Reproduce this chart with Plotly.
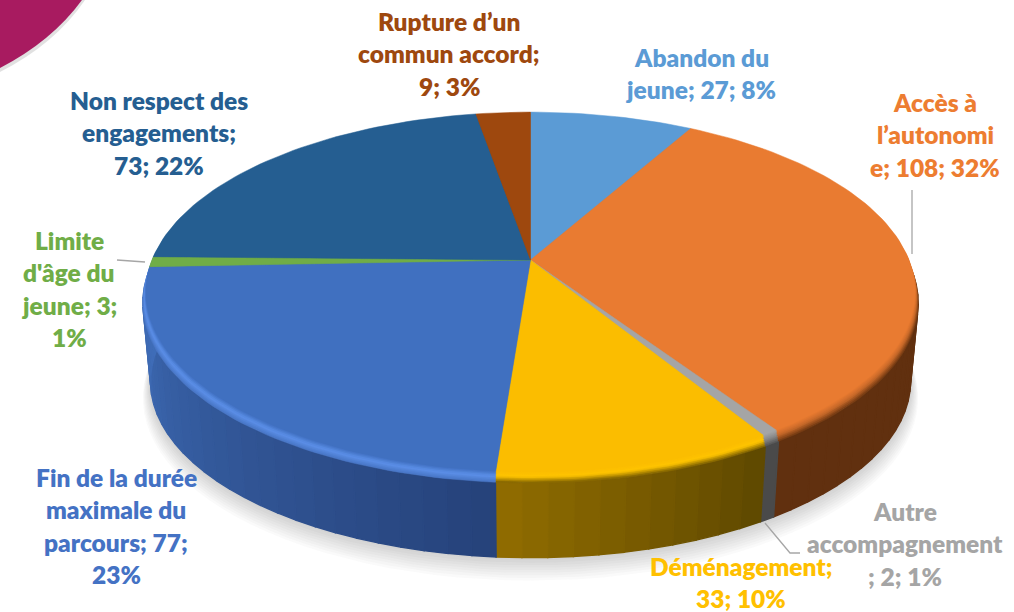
import math
import plotly.graph_objects as go

CATEGORIES = ["Abandon du jeune", "Accès à l'autonomie", "Autre accompagnement", "Déménagement",
              "Fin de la durée maximale du parcours", "Limite d'âge du jeune",
              "Non respect des engagements", "Rupture d'un commun accord"]
VALUES = [27, 108, 2, 33, 77, 3, 73, 9]
FACE_COLORS = ["#5B9BD5", "#E97B31", "#A5A5A5", "#FBBD00", "#4070C0", "#70AD47", "#255E91", "#9E480E"]
LABEL_COLORS = ["#5B9BD5", "#ED7D31", "#A5A5A5", "#FFC000", "#4472C4", "#70AD47", "#255E91", "#9E480E"]
# side ramp (start angle colour, end angle colour), bevel middle colour, bevel outer colour
SIDE_START = ["#2F5575", "#61300F", "#4A4A4A", "#5E4800", "#26427A", "#3F6DB8", "#3F6DB8", "#5E2B08"]
SIDE_END = ["#2F5575", "#61300F", "#4A4A4A", "#916D00", "#3F6DB8", "#3F6DB8", "#3F6DB8", "#5E2B08"]
BEVEL_MID = ["#5B9BD5", "#C96A2A", "#8A8A8A", "#FFC400", "#5C8FE8", "#5C8FE8", "#255E91", "#9E480E"]
BEVEL_OUT = ["#2F5575", "#7A3E14", "#5A5A5A", "#8A6A00", "#4A78C8", "#4A78C8", "#255E91", "#5E2B08"]

LABEL_LINES = [
    ["Abandon du", "jeune; 27; 8%"],
    ["Accès à", "l’autonomi", "e; 108; 32%"],
    ["Autre", "accompagnement", "; 2; 1%"],
    ["Déménagement;", "33; 10%"],
    ["Fin de la durée", "maximale du", "parcours; 77;", "23%"],
    ["Limite", "d'âge du", "jeune; 3;", "1%"],
    ["Non respect des", "engagements;", "73; 22%"],
    ["Rupture d’un", "commun accord;", "9; 3%"],
]
LABEL_X = [701, 935, 905, 741, 116, 69, 159, 449]
LABEL_Y0 = [57.5, 102.5, 511.5, 566, 477.5, 240.5, 100.5, 21.5]
LINE_STEP = 32.4
LEADERS = [
    ([912, 912], [190, 254]),
    ([117, 145], [260, 262]),
    ([765, 790, 800], [523, 553, 553]),
]
FONT = "Lato"
FONT_SIZE = 24.5
FONT_WEIGHT = 800

# pie geometry in picture pixels
CX, CY, A, B, P = 530.5, 260, 378.5, 174.2, 0.178
CY_BOTTOM, SX_BOTTOM, SY_BOTTOM = 350, 0.988, 0.98
RIM_DY, RIM_SX = 11, 1.008


def pt(deg, sx=1.0, sy=1.0, cy=CY):
    u, v = math.sin(math.radians(deg)), -math.cos(math.radians(deg))
    w = 1 - P * v
    return CX + A * sx * u / w, cy + B * sy * v / w


def rgb(h):
    return [int(h[i:i + 2], 16) for i in (1, 3, 5)]


def mix(a, b, t):
    ca, cb = rgb(a), rgb(b)
    return "#%02X%02X%02X" % tuple(round(x + (y - x) * t) for x, y in zip(ca, cb))


def poly(fig, xs, ys, color, lw=1.0):
    fig.add_trace(go.Scatter(x=xs, y=ys, mode="lines", fill="toself", fillcolor=color,
                             line=dict(color=color, width=lw), hoverinfo="skip", showlegend=False))


total = sum(VALUES)
edges = [0.0]
for val in VALUES:
    edges.append(edges[-1] + val / total * 360)

fig = go.Figure()

# soft shadow under the pie
for k in range(1, 10):
    ring = [pt(d, SX_BOTTOM + k * 0.0022, SY_BOTTOM + k * 0.004, CY_BOTTOM + k * 1.7) for d in range(0, 361, 3)]
    fig.add_trace(go.Scatter(x=[p[0] for p in ring], y=[p[1] for p in ring], mode="lines", fill="toself",
                             fillcolor="rgba(90,90,90,0.028)", line=dict(width=0),
                             hoverinfo="skip", showlegend=False))

# side wall, from the rim down to the base
for i in range(len(VALUES)):
    a0, a1 = max(edges[i], 70), min(edges[i + 1], 290)
    if a1 <= a0:
        continue
    n = max(1, int((a1 - a0) / 3))
    for j in range(n):
        d0, d1 = a0 + (a1 - a0) * j / n, a0 + (a1 - a0) * (j + 1) / n
        top = [pt(d0, RIM_SX, 1, CY + RIM_DY), pt(d1, RIM_SX, 1, CY + RIM_DY)]
        bot = [pt(d1, SX_BOTTOM, SY_BOTTOM, CY_BOTTOM), pt(d0, SX_BOTTOM, SY_BOTTOM, CY_BOTTOM)]
        pts = top + bot + top[:1]
        poly(fig, [p[0] for p in pts], [p[1] for p in pts], mix(SIDE_START[i], SIDE_END[i], (j + 0.5) / n), 1.4)

# bevel: stacked slices growing from the face to the rim, then the face on top
LEVELS = [1.0, 0.85, 0.7, 0.55, 0.4, 0.25, 0.12, 0.0]
for t in LEVELS:
    for i in range(len(VALUES)):
        n = max(2, int((edges[i + 1] - edges[i]) / 1.5))
        arc = [pt(edges[i] + (edges[i + 1] - edges[i]) * j / n,
                  1 + (RIM_SX - 1) * t, 1, CY + RIM_DY * t) for j in range(n + 1)]
        xs = [CX] + [p[0] for p in arc] + [CX]
        ys = [CY + RIM_DY * t] + [p[1] for p in arc] + [CY + RIM_DY * t]
        if t == 0:
            col = FACE_COLORS[i]
        elif t < 0.5:
            col = mix(FACE_COLORS[i], BEVEL_MID[i], t / 0.5)
        else:
            col = mix(BEVEL_MID[i], BEVEL_OUT[i], (t - 0.5) / 0.5)
        poly(fig, xs, ys, col, 0.5)

# leader lines
for lx, ly in LEADERS:
    fig.add_trace(go.Scatter(x=lx, y=ly, mode="lines", line=dict(color="#A6A6A6", width=1.3),
                             hoverinfo="skip", showlegend=False))

annotations = []
for lines, x, y0, color in zip(LABEL_LINES, LABEL_X, LABEL_Y0, LABEL_COLORS):
    for n, text in enumerate(lines):
        annotations.append(dict(x=x, y=y0 + n * LINE_STEP, text=text, showarrow=False,
                                xanchor="center", yanchor="middle",
                                font=dict(family=FONT, size=FONT_SIZE, color=color, weight=FONT_WEIGHT)))

shapes = [
    dict(type="path", path="M 0 0 L 85 0 Q 55 44 0 72 Z", fillcolor="rgba(120,120,120,0.22)", line=dict(width=0), layer="below"),
    dict(type="path", path="M 0 0 L 82 0 Q 52 41 0 68 Z", fillcolor="#A81B60", line=dict(width=0), layer="below"),
]

fig.update_layout(
    width=1014, height=612, margin=dict(l=0, r=0, t=0, b=0),
    paper_bgcolor="white", plot_bgcolor="white", showlegend=False,
    xaxis=dict(range=[0, 1014], visible=False, fixedrange=True),
    yaxis=dict(range=[612, 0], visible=False, fixedrange=True),
    annotations=annotations, shapes=shapes,
)
fig.write_html("out.html", config=dict(displayModeBar=False),
               post_script="document.body.style.margin='0';document.body.style.overflow='hidden';")
